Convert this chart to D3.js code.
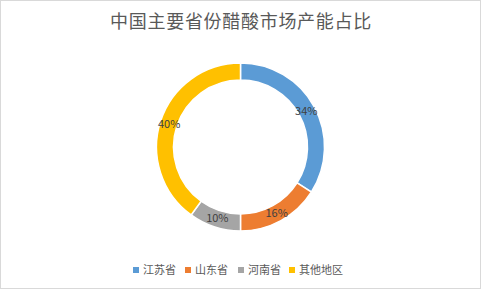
<!DOCTYPE html>
<html>
<head>
<meta charset="utf-8">
<script src="https://cdn.jsdelivr.net/npm/d3@7"></script>
<style>
  html, body { margin: 0; padding: 0; background: #fff; }
  text { font-family: "Noto Sans CJK SC", "Microsoft YaHei", sans-serif; }
</style>
</head>
<body>
<div id="chart"></div>
<script>
var provinces = ["江苏省", "山东省", "河南省", "其他地区"];
var shares = [34, 16, 10, 40];
var colors = ["#5B9BD5", "#ED7D31", "#A5A5A5", "#FFC000"];
var title = "中国主要省份醋酸市场产能占比";

var svgWidth = 481, svgHeight = 289;
var cx = 240.5, cy = 147;
var outerR = 84, innerR = 67;

var svg = d3.select("#chart").append("svg")
    .attr("width", svgWidth)
    .attr("height", svgHeight);

svg.append("rect")
    .attr("x", 0.5).attr("y", 0.5)
    .attr("width", svgWidth - 1).attr("height", svgHeight - 1)
    .attr("fill", "#fff")
    .attr("stroke", "#d9d9d9");

svg.append("text")
    .attr("x", svgWidth / 2 + 0.5)
    .attr("y", 28)
    .attr("text-anchor", "middle")
    .attr("fill", "#595959")
    .attr("font-size", 18)
    .attr("letter-spacing", 0.7)
    .text(title);

var data = provinces.map(function(p, i) { return {name: p, value: shares[i], color: colors[i]}; });

var pie = d3.pie().sort(null).value(d => d.value);
var arc = d3.arc().innerRadius(innerR).outerRadius(outerR);
var labelArc = d3.arc().innerRadius(75).outerRadius(75);

var g = svg.append("g")
    .attr("transform", "translate(" + cx + "," + cy + ")");

var arcs = pie(data);

g.selectAll("path")
    .data(arcs)
  .enter().append("path")
    .attr("d", arc)
    .attr("fill", d => d.data.color)
    .attr("stroke", "#fff")
    .attr("stroke-width", 1.5);

g.selectAll("text.lbl")
    .data(arcs)
  .enter().append("text")
    .attr("class", "lbl")
    .attr("transform", d => "translate(" + labelArc.centroid(d) + ")")
    .attr("text-anchor", "middle")
    .attr("dy", "0.35em")
    .attr("font-size", 11)
    .attr("fill", "#404040")
    .text(d => d.data.value + "%");

// legend
var legendX = [133, 185, 238, 289];
var legend = svg.append("g");
var item = legend.selectAll("g")
    .data(data)
  .enter().append("g")
    .attr("transform", (d, i) => "translate(" + legendX[i] + ",270)");

item.append("rect")
    .attr("x", 0).attr("y", -3)
    .attr("width", 6).attr("height", 6)
    .attr("fill", d => d.color);

item.append("text")
    .attr("x", 10)
    .attr("dy", "0.35em")
    .attr("font-size", 11)
    .attr("fill", "#595959")
    .text(d => d.name);
</script>
</body>
</html>
